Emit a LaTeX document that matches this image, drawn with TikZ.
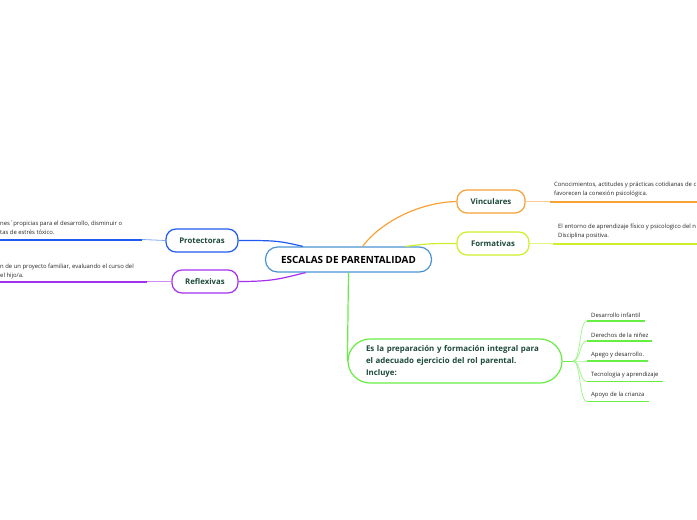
\documentclass[tikz,border=0pt]{standalone}
\usepackage{fontspec}
\setmainfont{Open Sans}
\usetikzlibrary{positioning}
\definecolor{labelgreen}{HTML}{1D4A3A}
\definecolor{rootblue}{HTML}{4A93D0}
\definecolor{protblue}{HTML}{1F5BF0}
\definecolor{reflpurple}{HTML}{A530F0}
\definecolor{vincorange}{HTML}{F7A236}
\definecolor{formlime}{HTML}{CFEF2A}
\definecolor{prepgreen}{HTML}{66EE44}

\begin{document}
\begin{tikzpicture}[
        x=1pt, y=-1pt,
        topic/.style={draw, line width=1.2pt, rounded corners=10pt, fill=white, minimum height=23pt, inner sep=2pt, font=\bfseries\fontsize{7.8}{9}\selectfont, text=labelgreen},
        note/.style={font=\fontsize{5.9}{8.5}\selectfont, align=left, inner sep=0pt, text=black!85},
        leaf/.style={font=\fontsize{5.9}{7}\selectfont, inner xsep=4pt, inner ysep=3pt, text=black!85},
        link/.style={line width=1.2pt},
        thinlink/.style={line width=0.8pt},
        under/.style={line width=2pt}
    ]
    \useasboundingbox (0,0) rectangle (697,520);
    \clip (0,0) rectangle (697,520);

    % central topic
    \node[topic, draw=rootblue, minimum width=166pt, minimum height=25pt, rounded corners=12pt, font=\bfseries\fontsize{9.9}{11}\selectfont, text=black] (root) at (348.5,259.5) {ESCALAS DE PARENTALIDAD};

    % main branches
    \node[topic, draw=protblue, minimum width=72pt] (prot) at (202,240.5) {Protectoras};
    \node[topic, draw=reflpurple, minimum width=66pt] (refl) at (205,281.5) {Reflexivas};
    \node[topic, draw=vincorange, minimum width=68pt] (vinc) at (491,201.5) {Vinculares};
    \node[topic, draw=formlime, minimum width=72pt] (form) at (493,243.5) {Formativas};
    \node[topic, draw=prepgreen, minimum width=214pt, minimum height=44pt, rounded corners=22pt, text width=178pt, inner xsep=18pt, align=left, font=\bfseries\fontsize{7.9}{12}\selectfont] (prep) at (455,361) {Es la preparación y formación integral para\\el adecuado ejercicio del rol parental.\\Incluye:};

    \draw[link, protblue] (prot.east) .. controls +(35,0) and +(-25,-6) .. (root.164);
    \draw[link, reflpurple] (refl.east) .. controls +(35,0) and +(-25,6) .. (root.197);
    \draw[link, vincorange] (root.43) .. controls +(18,-24) and +(-38,1) .. (vinc.west);
    \draw[link, formlime] (root.13) .. controls +(25,-3) and +(-25,0) .. (form.west);
    \draw[link, prepgreen] (root.south) -- (prep.west);

    % notes on the left
    \coordinate (protend) at (142,239.5);
    \coordinate (protedge) at (-5,239.5);
    \draw[thinlink, protblue!55] (prot.west) -- (protend);
    \draw[under, protblue] (protend) -- (protedge);
    \node[note, anchor=north west] (protnote) at (0,221) {nes´propicias para el desarrollo, disminuir o\\tas de estrés tóxico.};

    \coordinate (reflend) at (147,281.5);
    \coordinate (refledge) at (-5,281.5);
    \draw[thinlink, reflpurple!55] (refl.west) -- (reflend);
    \draw[under, reflpurple] (reflend) -- (refledge);
    \node[note, anchor=north west] (reflnote) at (0,264) {n de un proyecto familiar, evaluando el curso del\\el hijo/a.};

    % notes on the right
    \coordinate (vincend) at (550,201.5);
    \coordinate (vincedge) at (705,201.5);
    \draw[thinlink, vincorange!55] (vinc.east) -- (vincend);
    \draw[under, vincorange] (vincend) -- (vincedge);
    \node[note, anchor=north west] (vincnote) at (554,182) {Conocimientos, actitudes y prácticas cotidianas de c\\favorecen la conexión psicológica.};

    \coordinate (formend) at (553,243.5);
    \coordinate (formedge) at (705,243.5);
    \draw[thinlink, formlime!60] (form.east) -- (formend);
    \draw[under, formlime] (formend) -- (formedge);
    \node[note, anchor=north west] (formnote) at (558,224) {El entorno de aprendizaje físico y psicologico del n\\Disciplina positiva.};

    % what it includes
    \coordinate (hub) at (573,361);
    \draw[thinlink, prepgreen] (prep.east) -- (hub);
    \node[leaf, anchor=south west] (l1) at (587,321) {Desarrollo infantil};
    \node[leaf, anchor=south west] (l2) at (587,341) {Derechos de la niñez};
    \node[leaf, anchor=south west] (l3) at (587,361) {Apego y desarrollo.};
    \node[leaf, anchor=south west] (l4) at (587,381.5) {Tecnologia y aprendizaje};
    \node[leaf, anchor=south west] (l5) at (587,401.5) {Apoyo de la crianza};
    \foreach \l in {l1,l2,l3,l4,l5} {
        \draw[thinlink, prepgreen!60] (hub) .. controls +(8,0) and +(-8,0) .. (\l.south west);
        \draw[link, prepgreen] (\l.south west) -- (\l.south east);
    }
\end{tikzpicture}
\end{document}
